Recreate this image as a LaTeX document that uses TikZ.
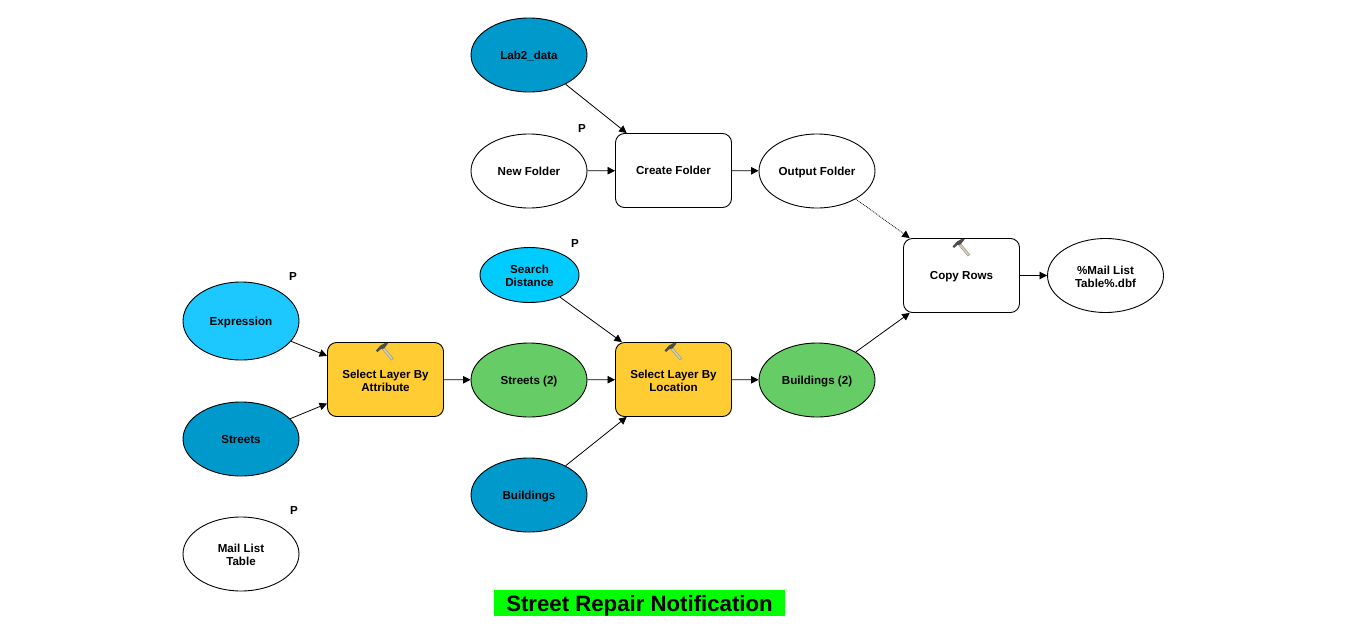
\documentclass[tikz,border=0pt]{standalone}
\usepackage{fontspec}
\setmainfont{Liberation Sans}
\usetikzlibrary{shapes.geometric,arrows.meta}
\definecolor{dkblue}{HTML}{0099CC}
\definecolor{ltblue}{HTML}{00CCFF}
\definecolor{exblue}{HTML}{1CC8FF}
\definecolor{mgreen}{HTML}{66CC66}
\definecolor{myellow}{HTML}{FFCC33}
\definecolor{tgreen}{HTML}{00FF00}
\definecolor{htan}{HTML}{D8CFB0}
\tikzset{
  lbl/.style={font=\fontsize{11.6}{13}\selectfont\bfseries,align=center,text=black,text height=10pt,text depth=2pt},
  oval/.style={ellipse,draw=black,line width=0.9pt,minimum width=116pt,minimum height=74pt,inner sep=0pt,lbl},
  tool/.style={rectangle,rounded corners=9pt,draw=black,line width=0.9pt,minimum width=116pt,minimum height=74pt,inner sep=0pt,lbl},
  twoline/.style={text height=24pt,text depth=1pt},
  plabel/.style={font=\fontsize{11.6}{13}\selectfont\bfseries,inner sep=0pt},
  link/.style={-{Triangle[length=7.5pt,width=7.5pt]},line width=0.8pt,black},
  dotlink/.style={link,densely dotted},
  hammer/.pic={
    \draw[line width=3pt,draw=black!40] (0,0) -- (10.5,12.5);
    \draw[line width=1.6pt,draw=htan] (0.6,0.7) -- (10,12);
    \fill[black!70] (-6,3.5) -- (-1.5,-1.5) -- (4,-4.5) -- (6,-3.5) -- (2,1.5) -- (-1,2) -- (-4.5,5) -- cycle;
  }
}
\begin{document}
\begin{tikzpicture}[x=1pt,y=-1pt]
\useasboundingbox (0,0) rectangle (1347,635);
\node[oval,fill=dkblue] (lab) at (529,55) {Lab2\_data};
\node[oval] (newf) at (529,171) {New Folder};
\node[tool] (create) at (673.5,170.5) {Create Folder};
\node[oval] (outf) at (817,171) {Output Folder};
\node[tool] (copy) at (961.5,275.5) {Copy Rows};
\node[oval,twoline] (mail) at (1105.5,275.5) {\%Mail List\\Table\%.dbf};
\node[oval,twoline,fill=ltblue,minimum width=99pt,minimum height=55pt] (search) at (529.5,275) {Search\\Distance};
\node[oval,fill=exblue,minimum height=78pt] (expr) at (241,321) {Expression};
\node[oval,fill=dkblue] (streets) at (241,439) {Streets};
\node[oval,twoline] (mlt) at (241,554) {Mail List\\Table};
\node[tool,twoline,fill=myellow] (selattr) at (385.5,379.5) {Select Layer By\\Attribute};
\node[oval,fill=mgreen] (str2) at (529,380) {Streets (2)};
\node[tool,twoline,fill=myellow] (selloc) at (673.5,379.5) {Select Layer By\\Location};
\node[oval,fill=mgreen] (bld2) at (817,380) {Buildings (2)};
\node[oval,fill=dkblue] (bld) at (529,495) {Buildings};
\node[plabel] (p1) at (582,128.5) {P};
\node[plabel] (p2) at (575,243.5) {P};
\node[plabel] (p3) at (293,276.5) {P};
\node[plabel] (p4) at (294,510.5) {P};
\node[fill=tgreen,minimum width=291pt,minimum height=26pt,inner sep=0pt,font=\fontsize{22.2}{24}\selectfont\bfseries,text height=21pt,text depth=5pt] (title) at (639.5,603) {Street Repair Notification};
\draw[link] (lab) -- (create);
\draw[link] (newf) -- (create);
\draw[link] (create) -- (outf);
\draw[dotlink] (outf) -- (copy);
\draw[link] (copy) -- (mail);
\draw[link] (search) -- (selloc);
\draw[link] (expr) -- (selattr);
\draw[link] (streets) -- (selattr);
\draw[link] (selattr) -- (str2);
\draw[link] (str2) -- (selloc);
\draw[link] (bld) -- (selloc);
\draw[link] (selloc) -- (bld2);
\draw[link] (bld2) -- (copy);
\pic at (382,347) {hammer};
\pic at (670.5,347) {hammer};
\pic at (958.5,243) {hammer};
\end{tikzpicture}
\end{document}
